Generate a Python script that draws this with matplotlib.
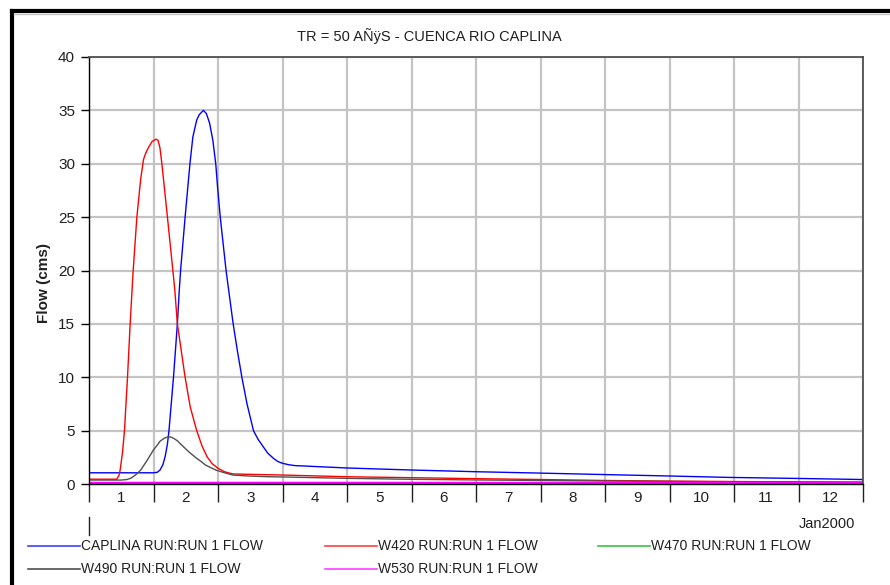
import numpy as np
import matplotlib
matplotlib.use("Agg")
import matplotlib.pyplot as plt
from matplotlib.lines import Line2D

plt.rcParams['font.family'] = ['Liberation Sans', 'DejaVu Sans']

# hydrographs, x in days of Jan2000 (0 = start of day 1)
caplina_t = [0, 0.5, 1.0, 1.06, 1.10, 1.145, 1.18, 1.215, 1.24, 1.31, 1.37, 1.40, 1.42, 1.49,
             1.565, 1.61, 1.67, 1.71, 1.774, 1.82, 1.87, 1.92, 1.965, 1.995, 2.035, 2.08, 2.125,
             2.18, 2.235, 2.30, 2.37, 2.45, 2.55, 2.62, 2.70, 2.77, 2.86, 2.93, 3.0, 3.1, 3.2,
             3.32, 4.0, 5.0, 6.0, 7.0, 7.87, 9.0, 9.9, 11.0, 12.0]
caplina_q = [1.05, 1.05, 1.05, 1.1, 1.3, 1.8, 2.56, 3.7, 5, 10, 15, 18.2, 20, 25,
             30, 32.5, 34.1, 34.6, 35.0, 34.7, 33.8, 32.2, 30, 27.7, 25, 22.5, 20,
             17.5, 15, 12.5, 10, 7.5, 5, 4.2, 3.5, 2.9, 2.4, 2.1, 1.94, 1.8, 1.72,
             1.69, 1.5, 1.31, 1.15, 1.02, 0.9, 0.75, 0.62, 0.52, 0.42]

w420_t = [0, 0.43, 0.465, 0.483, 0.52, 0.55, 0.597, 0.638, 0.685, 0.742, 0.80, 0.845, 0.88,
          0.92, 0.98, 1.04, 1.07, 1.10, 1.13, 1.216, 1.30, 1.33, 1.37, 1.49, 1.57, 1.67, 1.75,
          1.83, 1.91, 2.0, 2.1, 2.23, 3.0, 4.0, 5.0, 6.0, 7.0, 8.0, 9.0, 10.0, 11.0, 12.0]
w420_q = [0.45, 0.45, 0.8, 1.3, 3, 5, 10, 15, 20, 25, 28.5, 30.4, 31.0,
          31.5, 32.1, 32.3, 32.2, 31.5, 30, 25, 20, 18.2, 15, 10, 7.2, 5, 3.6,
          2.56, 1.9, 1.47, 1.15, 0.94, 0.84, 0.68, 0.59, 0.5, 0.42, 0.33, 0.27, 0.23, 0.2, 0.18]

w470_t = [0, 3, 6, 9, 12]
w470_q = [0.06, 0.06, 0.05, 0.05, 0.04]

w490_t = [0, 0.5, 0.59, 0.65, 0.7, 0.75, 0.8, 0.85, 0.9, 0.95, 1.0, 1.06, 1.1, 1.17, 1.23,
          1.28, 1.32, 1.37, 1.41, 1.48, 1.55, 1.61, 1.67, 1.74, 1.8, 1.88, 1.97, 2.1, 2.23,
          2.5, 2.8, 3.0, 4.0, 5.0, 6.0, 7.0, 8.0, 10.0, 12.0]
w490_q = [0.37, 0.37, 0.42, 0.55, 0.75, 1.0, 1.3, 1.75, 2.2, 2.7, 3.2, 3.65, 4.0, 4.3, 4.43,
          4.38, 4.25, 4.05, 3.8, 3.4, 3.0, 2.7, 2.4, 2.1, 1.8, 1.55, 1.3, 1.05, 0.84,
          0.74, 0.68, 0.66, 0.53, 0.44, 0.38, 0.33, 0.28, 0.2, 0.15]

w530_t = [0, 3, 6, 9, 12]
w530_q = [0.15, 0.15, 0.15, 0.14, 0.14]

day_labels = [str(d) for d in range(1, 13)]

fig = plt.figure(figsize=(8.9, 5.85), dpi=100)
W, H = 890.0, 585.0
ax = fig.add_axes([89 / W, 1 - 484 / H, (863 - 89) / W, (484 - 57) / H])

ax.plot(caplina_t, caplina_q, color='#0000ff', lw=1.0)
ax.plot(w420_t, w420_q, color='#ff0000', lw=1.0)
ax.plot(w470_t, w470_q, color='#00b000', lw=1.0)
ax.plot(w490_t, w490_q, color='#505050', lw=1.0)
ax.plot(w530_t, w530_q, color='#ff00ff', lw=1.0)

ax.set_xlim(0, 12)
ax.set_ylim(0, 40)
ax.set_yticks(np.arange(0, 41, 5))
ax.set_xticks(np.arange(0, 13, 1))
ax.set_xticklabels([])
ax.set_xticks(np.arange(0.5, 12, 1), day_labels, minor=True)
ax.tick_params(axis='x', which='major', length=13, width=1, color='#202020')
ax.tick_params(axis='x', which='minor', length=0, pad=5, labelsize=11, labelcolor='#202020')
ax.tick_params(axis='y', length=6, width=1, pad=4, labelsize=11, labelcolor='#202020')
ax.grid(True, which='major', color='#c4c4c4', lw=1.6)
ax.set_axisbelow(True)
for s in ['top', 'right']:
    ax.spines[s].set_color('#505050')
    ax.spines[s].set_linewidth(1.3)
for s in ['left', 'bottom']:
    ax.spines[s].set_color('#000000')
    ax.spines[s].set_linewidth(1.0)

# extra tick segment under the first day
ax.plot([0, 0], [-0.077, -0.12], color='#202020', lw=1, transform=ax.get_xaxis_transform(), clip_on=False)

fig.text(429 / W, 1 - 36 / H, 'TR = 50 AÑÿS - CUENCA RIO CAPLINA', ha='center', va='center',
         fontsize=10.5, color='#202020')
fig.text(44 / W, 1 - 283 / H, 'Flow (cms)', rotation=90, ha='center', va='center',
         fontsize=11, fontweight='bold', color='#202020')
fig.text(855 / W, 1 - 524 / H, 'Jan2000', ha='right', va='center', fontsize=10.5, color='#202020')

# legend drawn as in the HMS window
leg_names = ['CAPLINA RUN:RUN 1 FLOW', 'W420 RUN:RUN 1 FLOW', 'W470 RUN:RUN 1 FLOW',
             'W490 RUN:RUN 1 FLOW', 'W530 RUN:RUN 1 FLOW']
leg_colors = ['#4040ff', '#ff4040', '#40c040', '#505050', '#ff40ff']
cols = [28, 325, 598]
rows = [546, 569]
for i, (name, c) in enumerate(zip(leg_names, leg_colors)):
    x0 = cols[i % 3]
    y0 = 1 - rows[i // 3] / H
    fig.add_artist(Line2D([x0 / W, (x0 + 52) / W], [y0, y0], color=c, lw=1.2))
    fig.text((x0 + 53) / W, y0, name, ha='left', va='center', fontsize=10, color='#202020')

# outer window frame
fig.add_artist(Line2D([12 / W, 1.0], [1 - 11 / H, 1 - 11 / H], color='black', lw=3))
fig.add_artist(Line2D([12 / W, 12 / W], [0.0, 1 - 11 / H], color='black', lw=3))
fig.add_artist(Line2D([14 / W, 1.0], [1 - 13.5 / H, 1 - 13.5 / H], color='#c8c8c8', lw=1))

fig.savefig('out.png', dpi=100)
